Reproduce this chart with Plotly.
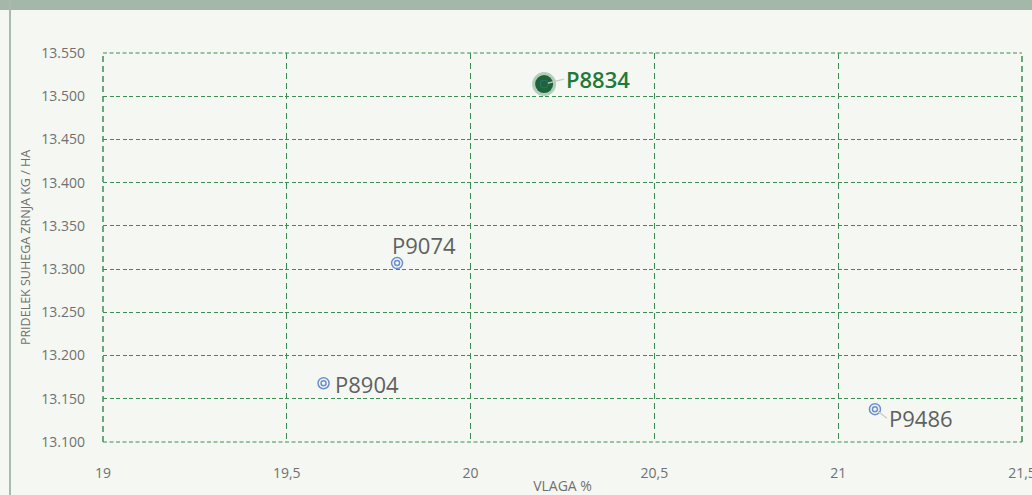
import plotly.graph_objects as go

hybrids = ["P8834", "P9074", "P8904", "P9486"]
moisture = [20.2, 19.8, 19.6, 21.1]
yield_kg = [13514, 13307, 13168, 13138]
highlight = "P8834"

x_ticks = [19, 19.5, 20, 20.5, 21, 21.5]
y_ticks = [13100, 13150, 13200, 13250, 13300, 13350, 13400, 13450, 13500, 13550]

grid_col = "#3f8b55"
font_fam = "'Open Sans', Lato, sans-serif"
x_range = [x_ticks[0], x_ticks[-1]]
y_range = [y_ticks[0], y_ticks[-1]]

fig = go.Figure()

ox = [x for h, x in zip(hybrids, moisture) if h != highlight]
oy = [y for h, y in zip(hybrids, yield_kg) if h != highlight]
hx = [x for h, x in zip(hybrids, moisture) if h == highlight]
hy = [y for h, y in zip(hybrids, yield_kg) if h == highlight]

fig.add_trace(go.Scatter(x=hx, y=hy, mode="markers", hoverinfo="skip",
                         marker=dict(size=24, color="rgba(30,106,60,0.3)", line=dict(width=0))))
fig.add_trace(go.Scatter(x=hx, y=hy, mode="markers",
                         marker=dict(size=18, color="#1d6438", line=dict(width=0))))
fig.add_trace(go.Scatter(x=hx, y=hy, mode="markers", hoverinfo="skip",
                         marker=dict(size=8, symbol="circle-open", color="#2f6f7a", line=dict(width=1))))

fig.add_trace(go.Scatter(x=ox, y=oy, mode="markers",
                         marker=dict(size=11, symbol="circle-open", color="#6a8fcf", line=dict(width=1.5))))
fig.add_trace(go.Scatter(x=ox, y=oy, mode="markers", hoverinfo="skip",
                         marker=dict(size=5, symbol="circle-open", color="#6a8fcf", line=dict(width=1.5))))

# (arrow ax, arrow ay, xshift, yshift, xanchor, yanchor, show leader)
offsets = {"P8834": (20, -5, 0, 0, "left", "middle", True),
           "P9074": (0, 0, -7, 1, "left", "bottom", False),
           "P8904": (0, 0, 9, -1, "left", "middle", False),
           "P9486": (12, 9, 0, 0, "left", "middle", True)}
for h, x, y in zip(hybrids, moisture, yield_kg):
    ax, ay, xs, ys, xa, ya, arrow = offsets[h]
    is_h = h == highlight
    fig.add_annotation(x=x, y=y, text=h, ax=ax, ay=ay, xshift=xs, yshift=ys,
                       xanchor=xa, yanchor=ya,
                       showarrow=arrow, arrowhead=0, arrowwidth=1.3,
                       arrowcolor="#c8ccc8", standoff=4,
                       font=dict(family=font_fam, size=22, weight=600 if is_h else 400,
                                 color="#1f7a3a" if is_h else "#606060"))

shapes = [
    dict(type="rect", xref="paper", yref="paper", x0=-0.2, x1=1.2,
         y0=1 + 43 / 389, y1=1.3, fillcolor="#a5b7a9", line=dict(width=0), layer="above"),
    dict(type="line", xref="paper", yref="paper",
         x0=-93 / 919, x1=-93 / 919, y0=-0.2, y1=1.2,
         line=dict(color="#a9bbad", width=2)),
]
for yv in (0, 1):
    shapes.append(dict(type="line", xref="paper", yref="paper", x0=0, x1=1, y0=yv, y1=yv,
                       line=dict(color=grid_col, width=1.2, dash="4px,2.5px"), layer="below"))
for xv in (0, 1):
    shapes.append(dict(type="line", xref="paper", yref="paper", x0=xv, x1=xv, y0=0, y1=1,
                       line=dict(color=grid_col, width=1.5, dash="6px,4px"), layer="below"))

fig.update_layout(
    width=1032, height=495,
    paper_bgcolor="#f5f8f2", plot_bgcolor="#f5f8f2",
    margin=dict(l=103, r=10, t=53, b=53, autoexpand=False),
    showlegend=False,
    separators=",.",
    font=dict(family=font_fam, color="#707070"),
    shapes=shapes,
)
fig.update_xaxes(range=x_range, tickvals=x_ticks, ticktext=[f"{v:g}".replace(".", ",") for v in x_ticks],
                 showgrid=True, gridcolor=grid_col, griddash="6px,4px", gridwidth=1.4,
                 zeroline=False, showline=False, automargin=False, ticklabeloverflow="allow",
                 tickfont=dict(size=14, color="#707070"), ticklen=0, ticklabelstandoff=21,
                 title=dict(text="VLAGA %", font=dict(size=14, color="#707070"), standoff=7))
fig.update_yaxes(range=y_range, tickvals=y_ticks, tickformat=",d",
                 showgrid=True, gridcolor=grid_col, griddash="4px,2.5px", gridwidth=1.2,
                 zeroline=False, showline=False, automargin=False, ticklabeloverflow="allow",
                 tickfont=dict(size=14, color="#707070"), ticklen=0, ticklabelstandoff=17,
                 title=dict(text="PRIDELEK SUHEGA ZRNJA KG / HA", font=dict(size=12.5, color="#707070"), standoff=7))

fig.write_html("out.html", config={"displayModeBar": False},
               post_script="document.body.style.margin='0';document.body.style.background='#f5f8f2';")
